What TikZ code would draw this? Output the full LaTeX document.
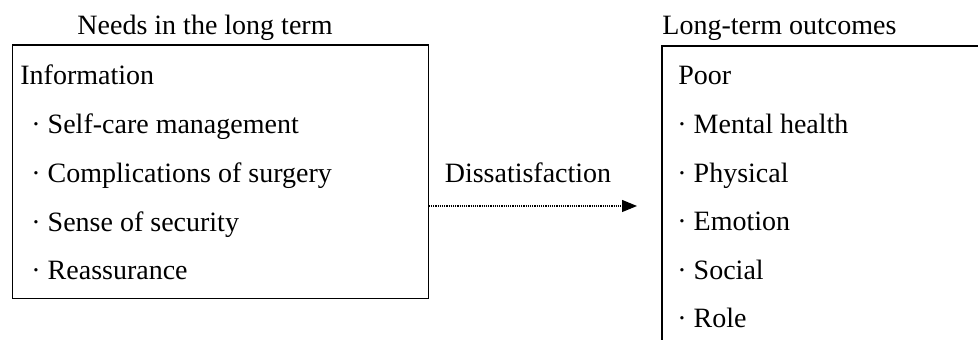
\documentclass[tikz,border=0pt]{standalone}
\usepackage{fontspec}
\setmainfont{Liberation Serif}
\usetikzlibrary{arrows.meta}
\begin{document}
\begin{tikzpicture}[x=0.5pt,y=-0.5pt,
  frame/.style={draw, line width=0.65pt, inner sep=0pt, outer sep=0pt},
  txt/.style={font=\fontsize{14}{16}\selectfont, anchor=base west, inner sep=0pt},
  ttl/.style={font=\fontsize{14}{16}\selectfont, inner sep=0pt},
  flow/.style={line width=0.6pt, dash pattern=on 0.6pt off 0.5pt,
    -{Triangle[length=7.5pt,width=6pt]}}]
\useasboundingbox (0,0) rectangle (978,340);
\clip (0,0) rectangle (978,340);

% boxes
\node[frame, minimum width=208pt, minimum height=126.75pt] (needs) at (220.7,171.75) {};
\node[frame, minimum width=169pt, minimum height=177pt] (outcomes) at (831,223) {};

% titles
\node[ttl, anchor=base] (needsTitle) at (205,35) {Needs in the long term};
\node[ttl, anchor=base west] (outTitle) at (662,35) {Long-term outcomes};

% needs list
\node[txt] (info) at (20,85) {Information};
\node[txt] (n1) at (31,133.75) {· Self-care management};
\node[txt] (n2) at (31,182.5) {· Complications of surgery};
\node[txt] (n3) at (31,231.25) {· Sense of security};
\node[txt] (n4) at (31,280) {· Reassurance};

% outcomes list
\node[txt] (poor) at (678,85) {Poor};
\node[txt] (o1) at (677,133.6) {· Mental health};
\node[txt] (o2) at (677,182.2) {· Physical};
\node[txt] (o3) at (677,230.8) {· Emotion};
\node[txt] (o4) at (677,279.4) {· Social};
\node[txt] (o5) at (677,328) {· Role};

% connector
\node[ttl, anchor=base] (dis) at (528,182.7) {Dissatisfaction};
\coordinate (lvl) at (0,206);
\coordinate (tip) at (637,206);
\draw[flow] (needs.east |- lvl) -- (tip);
\end{tikzpicture}
\end{document}
